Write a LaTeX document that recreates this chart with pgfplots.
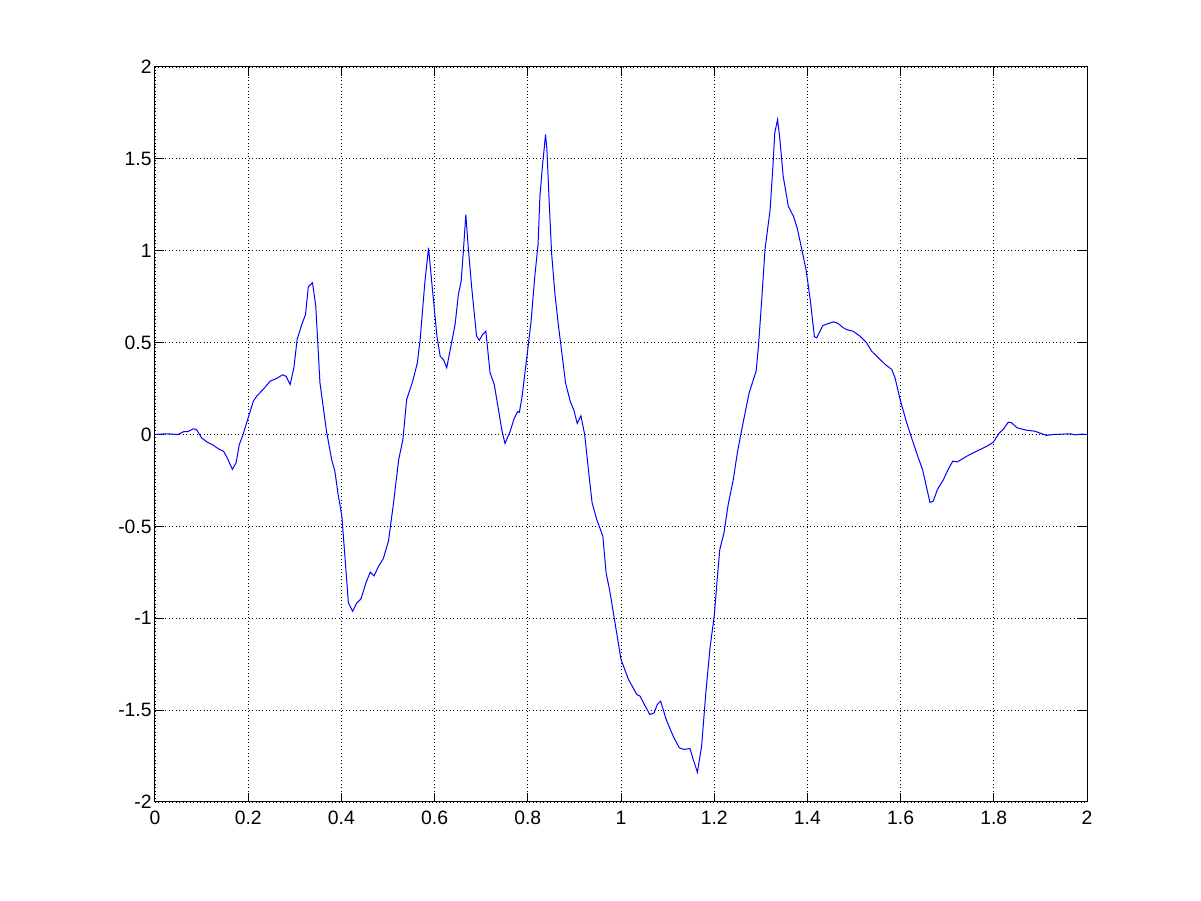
\documentclass[border=0pt]{standalone}
\usepackage{fontspec}
\setmainfont{Liberation Sans}
\usepackage{pgfplots}
\pgfplotsset{compat=1.18}

\begin{document}
\begin{tikzpicture}
\begin{axis}[
  scale only axis,
  width=699pt, height=551.25pt,
  xmin=0, xmax=2, ymin=-2, ymax=2,
  xtick={0,0.2,...,2},
  ytick={-2,-1.5,...,2},
  xticklabels={0,0.2,0.4,0.6,0.8,1,1.2,1.4,1.6,1.8,2},
  yticklabels={-2,-1.5,-1,-0.5,0,0.5,1,1.5,2},
  grid=major,
  major grid style={black, line width=0.6pt, dotted},
  axis line style={black, line width=0.75pt},
  major tick length=6.75pt,
  tick style={black, line width=0.75pt},
  tick align=inside,
  ticklabel style={font=\fontsize{14.5}{17}\selectfont},
  xticklabel style={yshift=-3pt},
  yticklabel style={xshift=1pt},
]
\addplot[color={rgb,1:red,0;green,0;blue,1}, line width=0.75pt] coordinates {
(0,0) (0.025,0.004) (0.050,0) (0.061,0.015) (0.071,0.016) (0.082,0.031)
(0.089,0.027) (0.100,-0.018) (0.111,-0.040) (0.125,-0.058) (0.136,-0.078)
(0.147,-0.091) (0.155,-0.127) (0.166,-0.190) (0.174,-0.154) (0.181,-0.054)
(0.189,0) (0.200,0.091) (0.211,0.181) (0.218,0.208) (0.232,0.245)
(0.247,0.290) (0.261,0.305) (0.274,0.325) (0.281,0.317) (0.290,0.272)
(0.298,0.363) (0.305,0.517) (0.315,0.599) (0.323,0.653) (0.329,0.804)
(0.338,0.826) (0.345,0.698) (0.354,0.281) (0.368,0.018) (0.379,-0.136)
(0.386,-0.200) (0.393,-0.327) (0.401,-0.445) (0.408,-0.680) (0.415,-0.916)
(0.424,-0.962) (0.433,-0.917) (0.442,-0.895) (0.453,-0.805) (0.462,-0.749)
(0.470,-0.770) (0.479,-0.721) (0.490,-0.675) (0.501,-0.580) (0.511,-0.389)
(0.523,-0.136) (0.532,-0.027) (0.540,0.190) (0.553,0.290) (0.563,0.390)
(0.569,0.517) (0.579,0.826) (0.587,1.016) (0.594,0.826) (0.605,0.535)
(0.612,0.426) (0.619,0.408) (0.626,0.363) (0.635,0.481) (0.644,0.599)
(0.651,0.762) (0.657,0.834) (0.662,1.007) (0.667,1.197) (0.672,1.025)
(0.680,0.789) (0.690,0.535) (0.696,0.513) (0.703,0.544) (0.710,0.562)
(0.719,0.336) (0.728,0.272) (0.737,0.136) (0.744,0.027) (0.751,-0.049)
(0.762,0.016) (0.770,0.082) (0.778,0.125) (0.782,0.121) (0.788,0.212)
(0.798,0.422) (0.807,0.615) (0.815,0.860) (0.822,1.034) (0.826,1.297)
(0.832,1.479) (0.835,1.551) (0.838,1.633) (0.841,1.551) (0.846,1.261)
(0.851,0.989) (0.858,0.771) (0.865,0.608) (0.873,0.445) (0.881,0.281)
(0.891,0.181) (0.899,0.131) (0.906,0.060) (0.914,0.102) (0.922,0)
(0.930,-0.190) (0.938,-0.372) (0.948,-0.463) (0.961,-0.553) (0.968,-0.753)
(0.976,-0.853) (0.986,-1.007) (1.000,-1.224) (1.016,-1.333) (1.034,-1.415)
(1.041,-1.424) (1.052,-1.479) (1.062,-1.524) (1.071,-1.515) (1.078,-1.469)
(1.085,-1.451) (1.097,-1.551) (1.112,-1.642) (1.125,-1.705) (1.135,-1.714)
(1.148,-1.709) (1.155,-1.769) (1.164,-1.838) (1.173,-1.696) (1.182,-1.406)
(1.191,-1.161) (1.200,-0.989) (1.207,-0.771) (1.212,-0.626) (1.221,-0.535)
(1.230,-0.381) (1.241,-0.245) (1.250,-0.093) (1.262,0.064) (1.275,0.227)
(1.290,0.345) (1.295,0.481) (1.302,0.735) (1.309,1.007) (1.320,1.224)
(1.326,1.460) (1.330,1.642) (1.336,1.714) (1.341,1.605) (1.348,1.406)
(1.359,1.242) (1.370,1.188) (1.378,1.125) (1.388,1.007) (1.397,0.898)
(1.406,0.735) (1.415,0.532) (1.420,0.526) (1.433,0.593) (1.445,0.604)
(1.456,0.613) (1.466,0.604) (1.477,0.581) (1.484,0.571) (1.498,0.562)
(1.513,0.535) (1.527,0.499) (1.538,0.453) (1.549,0.426) (1.567,0.381)
(1.581,0.354) (1.588,0.309) (1.599,0.190) (1.613,0.064) (1.624,-0.022)
(1.638,-0.127) (1.647,-0.190) (1.663,-0.370) (1.670,-0.363) (1.679,-0.299)
(1.692,-0.245) (1.702,-0.190) (1.712,-0.145) (1.722,-0.149) (1.742,-0.118)
(1.763,-0.091) (1.785,-0.064) (1.799,-0.042) (1.812,0.009) (1.820,0.027)
(1.831,0.067) (1.838,0.064) (1.850,0.036) (1.871,0.023) (1.888,0.018)
(1.913,-0.005) (1.928,0) (1.949,0.002) (1.964,0.004) (1.974,-0.002)
(1.989,0.002) (2.000,0)
};
\end{axis}
\path ([xshift=-116.25pt,yshift=-74.25pt]current axis.south west)
  rectangle ([xshift=85.5pt,yshift=50.25pt]current axis.north east);
\end{tikzpicture}
\end{document}
